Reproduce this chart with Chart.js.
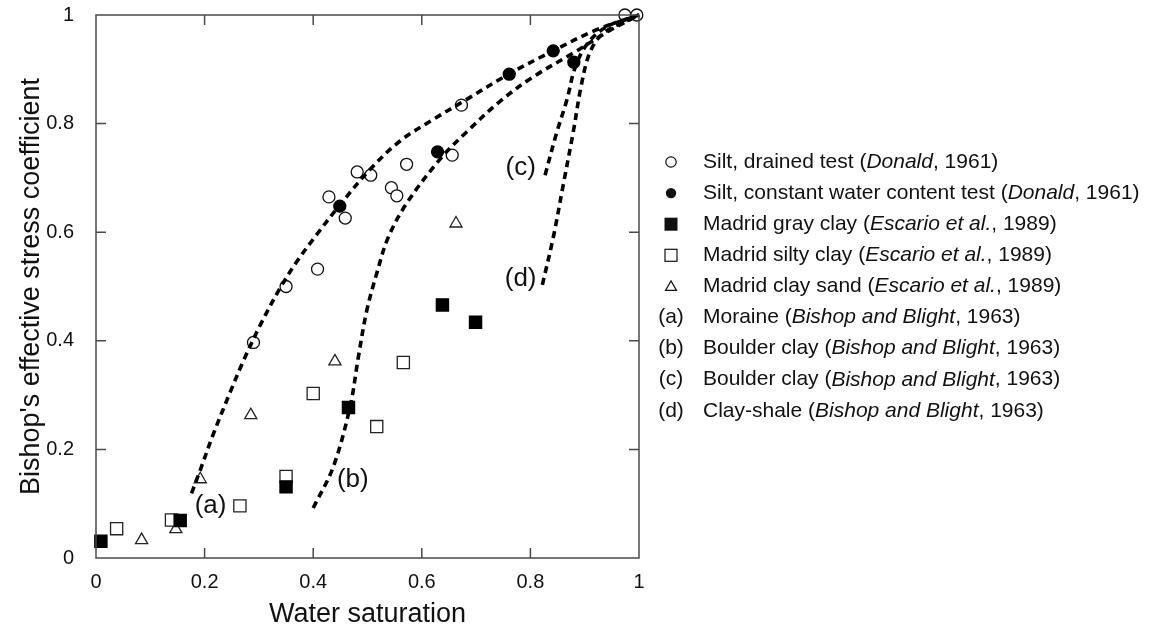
<!DOCTYPE html>
<html>
<head>
<meta charset="utf-8">
<script src="https://cdn.jsdelivr.net/npm/chart.js@4.4.1/dist/chart.umd.min.js"></script>
<style>
  html, body { margin: 0; padding: 0; background: #fff; overflow: hidden; }
</style>
</head>
<body>
<canvas id="chart" width="1152" height="631"></canvas>
<script>
// measured points, [water saturation, coefficient]
const siltDrained = [[0.290, 0.397], [0.350, 0.500], [0.408, 0.532], [0.429, 0.665], [0.459, 0.626],
  [0.481, 0.711], [0.506, 0.705], [0.544, 0.682], [0.554, 0.667], [0.572, 0.725],
  [0.656, 0.742], [0.673, 0.834], [0.974, 1.0], [0.996, 1.0]];
const siltConstant = [[0.449, 0.648], [0.629, 0.748], [0.761, 0.891], [0.842, 0.934], [0.880, 0.913]];
const grayClay = [[0.009, 0.031], [0.155, 0.069], [0.350, 0.131], [0.465, 0.277], [0.638, 0.466], [0.699, 0.434]];
const siltyClay = [[0.038, 0.054], [0.139, 0.070], [0.265, 0.096], [0.350, 0.150], [0.400, 0.303],
  [0.517, 0.242], [0.566, 0.360]];
const claySand = [[0.084, 0.033], [0.147, 0.053], [0.192, 0.145], [0.285, 0.263], [0.440, 0.362], [0.663, 0.616]];

// Bishop and Blight curves
const curveA = [[0.176, 0.119], [0.192, 0.162], [0.216, 0.228], [0.247, 0.305], [0.271, 0.362],
  [0.302, 0.428], [0.339, 0.497], [0.370, 0.546], [0.406, 0.595], [0.449, 0.650], [0.505, 0.716],
  [0.56, 0.768], [0.62, 0.807], [0.68, 0.843], [0.76, 0.891], [0.84, 0.933], [0.92, 0.972], [1, 1]];
const curveB = [[0.400, 0.092], [0.437, 0.168], [0.468, 0.279], [0.483, 0.369], [0.4985, 0.455],
  [0.517, 0.524], [0.538, 0.590], [0.572, 0.653], [0.634, 0.735], [0.683, 0.785], [0.744, 0.841],
  [0.805, 0.886], [0.879, 0.930], [0.947, 0.972], [1, 1]];
const curveC = [[0.827, 0.705], [0.848, 0.782], [0.867, 0.843], [0.882, 0.902], [0.904, 0.946], [0.940, 0.978], [1, 1]];
const curveD = [[0.822, 0.503], [0.842, 0.590], [0.861, 0.690], [0.879, 0.785], [0.894, 0.872],
  [0.910, 0.932], [0.934, 0.966], [1, 1]];

// curve tags, placed in data units
const curveTags = ['(a)', '(b)', '(c)', '(d)'];
const curveTagAt = [[0.211, 0.096], [0.473, 0.144], [0.782, 0.718], [0.782, 0.514]];

const tickValues = [0.2, 0.4, 0.6, 0.8];

// legend text: [text, italic]
const legendRows = [
  [['Silt, drained test (', false], ['Donald', true], [', 1961)', false]],
  [['Silt, constant water content test (', false], ['Donald', true], [', 1961)', false]],
  [['Madrid gray clay (', false], ['Escario et al.', true], [', 1989)', false]],
  [['Madrid silty clay (', false], ['Escario et al.', true], [', 1989)', false]],
  [['Madrid clay sand (', false], ['Escario et al.', true], [', 1989)', false]],
  [['Moraine (', false], ['Bishop and Blight', true], [', 1963)', false]],
  [['Boulder clay (', false], ['Bishop and Blight', true], [', 1963)', false]],
  [['Boulder clay (', false], ['Bishop and Blight', true], [', 1963)', false]],
  [['Clay-shale (', false], ['Bishop and Blight', true], [', 1963)', false]]
];
const legendKeys = ['circle', 'disc', 'filledSquare', 'square', 'triangle', '(a)', '(b)', '(c)', '(d)'];

const FONT = 'Arial, "Liberation Sans", sans-serif';
const toXY = arr => arr.map(p => ({x: p[0], y: p[1]}));
const fmt = v => String(+v.toFixed(1));

function markerSet(label, pts, style, radius, fill, border) {
  return {
    label: label, data: toXY(pts), showLine: false, clip: false,
    pointStyle: style, pointRadius: radius, pointBackgroundColor: fill,
    pointBorderColor: border, pointBorderWidth: 1.3
  };
}
function curveSet(label, pts) {
  return {
    label: label, data: toXY(pts), showLine: true, clip: false,
    borderColor: '#000', borderWidth: 3.6, borderDash: [7, 5], tension: 0.35,
    pointRadius: 0, fill: false
  };
}
function noPad(s) {
  s.paddingTop = 0; s.paddingBottom = 0; s.paddingLeft = 0; s.paddingRight = 0;
}

// inward ticks, frame, curve tags and legend
const decor = {
  id: 'decor',
  afterDraw(chart) {
    const ctx = chart.ctx, a = chart.chartArea;
    const xs = chart.scales.x, ys = chart.scales.y;
    ctx.save();
    ctx.strokeStyle = '#4a4a4a';
    ctx.lineWidth = 1.5;
    ctx.strokeRect(a.left, a.top, a.right - a.left, a.bottom - a.top);
    ctx.beginPath();
    tickValues.forEach(v => {
      const px = xs.getPixelForValue(v), py = ys.getPixelForValue(v);
      ctx.moveTo(px, a.bottom); ctx.lineTo(px, a.bottom - 10);
      ctx.moveTo(px, a.top); ctx.lineTo(px, a.top + 10);
      ctx.moveTo(a.left, py); ctx.lineTo(a.left + 10, py);
      ctx.moveTo(a.right, py); ctx.lineTo(a.right - 10, py);
    });
    ctx.stroke();

    ctx.fillStyle = '#111';
    ctx.font = '26px ' + FONT;
    ctx.textAlign = 'center';
    ctx.textBaseline = 'middle';
    curveTags.forEach((t, i) => {
      ctx.fillText(t, xs.getPixelForValue(curveTagAt[i][0]), ys.getPixelForValue(curveTagAt[i][1]));
    });

    // legend
    const symX = 671, textX = 703, top = 162, step = 31.1;
    legendRows.forEach((row, i) => {
      const y = top + i * step;
      const key = legendKeys[i];
      ctx.strokeStyle = '#111';
      ctx.lineWidth = 1.2;
      ctx.fillStyle = '#111';
      if (key === 'circle' || key === 'disc') {
        ctx.beginPath(); ctx.arc(symX, y, 5.2, 0, Math.PI * 2);
        if (key === 'disc') ctx.fill(); else ctx.stroke();
      } else if (key === 'filledSquare') {
        ctx.fillRect(symX - 6.5, y - 6.5, 13, 13);
      } else if (key === 'square') {
        ctx.strokeRect(symX - 6, y - 6, 12, 12);
      } else if (key === 'triangle') {
        ctx.beginPath();
        ctx.moveTo(symX, y - 5.5); ctx.lineTo(symX + 5.5, y + 4); ctx.lineTo(symX - 5.5, y + 4);
        ctx.closePath(); ctx.stroke();
      } else {
        ctx.font = '21px ' + FONT;
        ctx.textAlign = 'center';
        ctx.fillText(key, symX, y);
      }
      let x = textX;
      ctx.textAlign = 'left';
      row.forEach(seg => {
        ctx.font = (seg[1] ? 'italic ' : '') + '21px ' + FONT;
        ctx.fillText(seg[0], x, y);
        x += ctx.measureText(seg[0]).width;
      });
    });
    ctx.restore();
  }
};

new Chart(document.getElementById('chart'), {
  type: 'scatter',
  data: {
    datasets: [
      curveSet('(a)', curveA),
      curveSet('(b)', curveB),
      curveSet('(c)', curveC),
      curveSet('(d)', curveD),
      markerSet('Silt, drained test', siltDrained, 'circle', 6, '#fff', '#111'),
      markerSet('Silt, constant water content test', siltConstant, 'circle', 6, '#000', '#000'),
      markerSet('Madrid gray clay', grayClay, 'rect', 8.6, '#000', '#000'),
      markerSet('Madrid silty clay', siltyClay, 'rect', 8.6, '#fff', '#222'),
      markerSet('Madrid clay sand', claySand, 'triangle', 7, '#fff', '#222')
    ]
  },
  options: {
    responsive: false,
    animation: false,
    devicePixelRatio: 1,
    layout: { padding: { left: 0, right: 513, top: 15, bottom: 0 } },
    plugins: { legend: { display: false }, tooltip: { enabled: false } },
    scales: {
      x: {
        type: 'linear', min: 0, max: 1,
        border: { display: false },
        grid: { display: false },
        ticks: { stepSize: 0.2, padding: 4, color: '#111', font: { family: FONT, size: 20 }, callback: fmt },
        title: { display: true, text: 'Water saturation', color: '#111',
          font: { family: FONT, size: 27 }, padding: { top: 0, bottom: 0 } },
        afterFit: s => { s.height = 73; noPad(s); }
      },
      y: {
        type: 'linear', min: 0, max: 1,
        border: { display: false },
        grid: { display: false },
        ticks: { stepSize: 0.2, padding: 14, color: '#111', font: { family: FONT, size: 20 }, callback: fmt },
        title: { display: true, text: "Bishop's effective stress coefficient", color: '#111',
          font: { family: FONT, size: 27 }, padding: { top: 15, bottom: 0 } },
        afterFit: s => { s.width = 96; noPad(s); }
      }
    }
  },
  plugins: [decor]
});
</script>
</body>
</html>
